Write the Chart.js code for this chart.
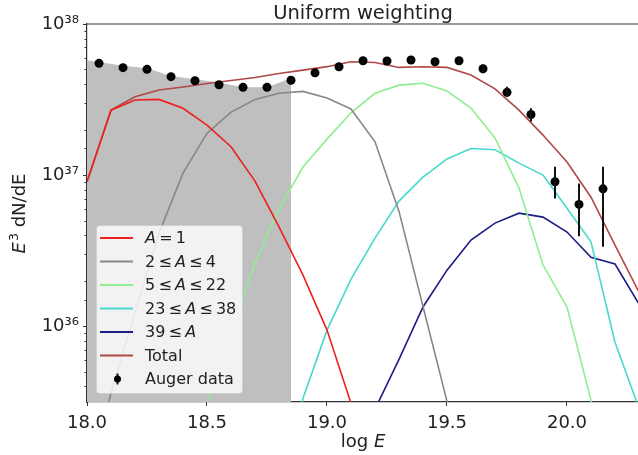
<!DOCTYPE html>
<html>
<head>
<meta charset="utf-8">
<script src="https://cdn.jsdelivr.net/npm/chart.js@4.4.1/dist/chart.umd.min.js"></script>
<style>
  html, body { margin: 0; padding: 0; background: #fff; overflow: hidden; }
  #wrap { width: 645px; height: 455px; }
</style>
</head>
<body>
<div id="wrap"><canvas id="chart" width="645" height="455"></canvas></div>
<script>
// model grid in log E
const logE = [18.0, 18.1, 18.2, 18.3, 18.4, 18.5, 18.6, 18.7, 18.8, 18.9, 19.0, 19.1,
              19.2, 19.3, 19.4, 19.5, 19.6, 19.7, 19.8, 19.9, 20.0, 20.1, 20.2, 20.3];

// E^3 dN/dE per mass group (null = not plotted)
const protons = [9.04e36, 2.69e37, 3.14e37, 3.17e37, 2.77e37, 2.14e37, 1.54e37, 9.12e36, 4.55e36, 2.18e36, 9.42e35, 3.09e35,
                 7.9e34, null, null, null, null, null, null, null, null, null, null, null];
const helium = [7.9e34, 3.61e35, 1.23e36, 4.13e36, 1.03e37, 1.89e37, 2.61e37, 3.16e37, 3.48e37, 3.58e37, 3.24e37, 2.74e37,
                1.66e37, 5.75e36, 1.35e36, 3.18e35, 6.3e34, null, null, null, null, null, null, null];
const cno = [null, null, null, null, 7.9e34, 3.02e35, 9.44e35, 2.61e36, 5.98e36, 1.13e37, 1.73e37, 2.58e37,
             3.48e37, 3.94e37, 4.05e37, 3.60e37, 2.78e37, 1.76e37, 8.20e36, 2.54e36, 1.34e36, 3.24e35, 7.9e34, null];
const silicon = [null, null, null, null, null, null, null, null, 7.9e34, 3.33e35, 9.42e35, 2.05e36,
                 3.83e36, 6.73e36, 9.70e36, 1.28e37, 1.50e37, 1.47e37, 1.20e37, 1.00e37, 6.04e36, 3.62e36, 7.83e35, 2.86e35];
const iron = [null, null, null, null, null, null, null, null, null, null, null, null,
              2.82e35, 6.04e35, 1.34e36, 2.35e36, 3.72e36, 4.81e36, 5.60e36, 5.27e36, 4.20e36, 2.86e36, 2.58e36, 1.40e36];
const total = [9.04e36, 2.69e37, 3.30e37, 3.66e37, 3.83e37, 4.04e37, 4.23e37, 4.43e37, 4.70e37, 4.95e37, 5.22e37, 5.62e37,
               5.56e37, 5.16e37, 5.21e37, 5.16e37, 4.59e37, 3.72e37, 2.69e37, 1.84e37, 1.22e37, 7.14e36, 3.44e36, 1.68e36];

// Auger spectrum
const augerE = [18.05, 18.15, 18.25, 18.35, 18.45, 18.55, 18.65, 18.75, 18.85, 18.95, 19.05,
                19.15, 19.25, 19.35, 19.45, 19.55, 19.65, 19.75, 19.85, 19.95, 20.05, 20.15];
const augerFlux = [5.49e37, 5.14e37, 5.01e37, 4.48e37, 4.21e37, 3.96e37, 3.81e37, 3.81e37, 4.24e37, 4.75e37, 5.21e37,
                   5.71e37, 5.69e37, 5.78e37, 5.63e37, 5.71e37, 5.06e37, 3.53e37, 2.52e37, 9.04e36, 6.40e36, 8.11e36];
const augerLow = [5.40e37, 5.06e37, 4.93e37, 4.41e37, 4.14e37, 3.89e37, 3.74e37, 3.73e37, 4.15e37, 4.64e37, 5.08e37,
                  5.55e37, 5.51e37, 5.57e37, 5.38e37, 5.40e37, 4.72e37, 3.29e37, 2.26e37, 7.01e36, 3.94e36, 3.35e36];
const augerHigh = [5.58e37, 5.22e37, 5.09e37, 4.55e37, 4.28e37, 4.03e37, 3.88e37, 3.89e37, 4.33e37, 4.86e37, 5.34e37,
                   5.87e37, 5.87e37, 5.99e37, 5.88e37, 6.02e37, 5.40e37, 3.85e37, 2.77e37, 1.135e37, 8.81e36, 1.135e37];

// grey band below the ankle
const shadeE = [18.0, 18.05, 18.15, 18.25, 18.35, 18.45, 18.55, 18.65, 18.75, 18.85];
const shadeTop = [5.75e37, 5.60e37, 5.30e37, 5.10e37, 4.53e37, 4.31e37, 4.10e37, 3.82e37, 3.82e37, 4.37e37];

const T = '\u2009'; // thin space, closer to mathtext spacing
const legendRows = [
  { parts: [['A', true], [T + '=' + T + '1', false]], color: '#ec2020' },
  { parts: [['2' + T + '≤' + T, false], ['A', true], [T + '≤' + T + '4', false]], color: '#888888' },
  { parts: [['5' + T + '≤' + T, false], ['A', true], [T + '≤' + T + '22', false]], color: '#90ee90' },
  { parts: [['23' + T + '≤' + T, false], ['A', true], [T + '≤' + T + '38', false]], color: '#48d8cc' },
  { parts: [['39' + T + '≤' + T, false], ['A', true]], color: '#1c1c85' },
  { parts: [['Total', false]], color: '#b04848' },
  { parts: [['Auger data', false]], marker: true }
];

const FONT = '"DejaVu Sans", sans-serif';
const sup = { '0': '⁰', '1': '¹', '2': '²', '3': '³', '4': '⁴', '5': '⁵', '6': '⁶', '7': '⁷', '8': '⁸', '9': '⁹' };

function pts(xs, ys) {
  const out = [];
  xs.forEach((x, i) => { if (ys[i] !== null) out.push({ x: x, y: ys[i] }); });
  return out;
}

function lineSet(data, color) {
  return { data: pts(logE, data), borderColor: color, borderWidth: 1.6, pointRadius: 0, fill: false, clip: 0, order: 1 };
}

function isDecade(v) {
  const l = Math.log10(v);
  return Math.abs(l - Math.round(l)) < 1e-6;
}

function drawRich(ctx, parts, x, y, size) {
  parts.forEach(([txt, ital]) => {
    ctx.font = (ital ? 'italic ' : '') + size + 'px ' + FONT;
    ctx.fillText(txt, x, y);
    x += ctx.measureText(txt).width;
  });
}

const decor = {
  id: 'decor',
  afterDatasetsDraw(chart) {
    const { ctx, chartArea: a, scales: { x, y } } = chart;
    ctx.save();
    // error bars
    ctx.strokeStyle = '#111';
    ctx.lineWidth = 2;
    augerE.forEach((e, i) => {
      const px = x.getPixelForValue(e);
      ctx.beginPath();
      ctx.moveTo(px, y.getPixelForValue(augerLow[i]));
      ctx.lineTo(px, y.getPixelForValue(augerHigh[i]));
      ctx.stroke();
    });
    // top spine
    ctx.strokeStyle = '#333';
    ctx.lineWidth = 1.2;
    ctx.beginPath();
    ctx.moveTo(a.left, a.top);
    ctx.lineTo(a.right, a.top);
    ctx.stroke();
    // minor ticks on the log axis
    ctx.lineWidth = 1;
    y.ticks.forEach(t => {
      if (isDecade(t.value)) return;
      const py = Math.round(y.getPixelForValue(t.value)) + 0.5;
      if (py > a.bottom || py < a.top) return;
      ctx.beginPath();
      ctx.moveTo(a.left - 2.5, py);
      ctx.lineTo(a.left, py);
      ctx.stroke();
    });
    // legend
    const bx = 96, by = 225, bw = 146, bh = 168;
    ctx.fillStyle = 'rgba(255,255,255,0.8)';
    ctx.strokeStyle = 'rgba(204,204,204,0.8)';
    ctx.lineWidth = 1;
    ctx.beginPath();
    ctx.roundRect(bx + 0.5, by + 0.5, bw, bh, 3);
    ctx.fill();
    ctx.stroke();
    ctx.textBaseline = 'middle';
    ctx.textAlign = 'left';
    legendRows.forEach((row, i) => {
      const ry = 238 + i * 23.5;
      if (row.marker) {
        ctx.strokeStyle = '#111';
        ctx.lineWidth = 2;
        ctx.beginPath();
        ctx.moveTo(117.5, ry - 5.5);
        ctx.lineTo(117.5, ry + 5.5);
        ctx.stroke();
        ctx.fillStyle = '#000';
        ctx.beginPath();
        ctx.arc(117.5, ry, 3.5, 0, Math.PI * 2);
        ctx.fill();
      } else {
        ctx.strokeStyle = row.color;
        ctx.lineWidth = 1.8;
        ctx.beginPath();
        ctx.moveTo(100, ry);
        ctx.lineTo(133, ry);
        ctx.stroke();
      }
      ctx.fillStyle = '#222';
      drawRich(ctx, row.parts, 145, ry + 1, 16);
    });
    ctx.restore();
  },
  afterDraw(chart) {
    const { ctx, chartArea: a } = chart;
    ctx.save();
    ctx.fillStyle = '#222';
    // title
    ctx.font = '19.5px ' + FONT;
    ctx.textAlign = 'center';
    ctx.textBaseline = 'alphabetic';
    ctx.fillText('Uniform weighting', (a.left + a.right) / 2, 19);
    // x label
    ctx.textAlign = 'left';
    ctx.font = '18px ' + FONT;
    const w1 = ctx.measureText('log ').width;
    ctx.font = 'italic 18px ' + FONT;
    const w2 = ctx.measureText('E').width;
    let sx = (a.left + a.right) / 2 - (w1 + w2) / 2;
    drawRich(ctx, [['log ', false], ['E', true]], sx, 447, 18);
    // y label
    ctx.translate(25, 214);
    ctx.rotate(-Math.PI / 2);
    ctx.font = 'italic 18px ' + FONT;
    const e = ctx.measureText('E').width;
    ctx.font = '12.6px ' + FONT;
    const s = ctx.measureText('3').width;
    ctx.font = '18px ' + FONT;
    const r = ctx.measureText(' dN/dE').width;
    let lx = -(e + s + r) / 2;
    ctx.font = 'italic 18px ' + FONT;
    ctx.fillText('E', lx, 0);
    lx += e + 1;
    ctx.font = '12.6px ' + FONT;
    ctx.fillText('3', lx, -7);
    lx += s;
    ctx.font = '18px ' + FONT;
    ctx.fillText(' dN/dE', lx, 0);
    ctx.restore();
  }
};

new Chart(document.getElementById('chart'), {
  type: 'line',
  data: {
    datasets: [
      { data: pts(augerE, augerFlux), showLine: false, pointRadius: 4.5, pointBackgroundColor: '#000',
        pointBorderColor: '#000', pointBorderWidth: 0, order: -1 },
      lineSet(protons, '#ec2020'),
      lineSet(helium, '#888888'),
      lineSet(cno, '#90ee90'),
      lineSet(silicon, '#48d8cc'),
      lineSet(iron, '#1c1c85'),
      lineSet(total, '#b04848'),
      { data: pts(shadeE, shadeTop), borderWidth: 0, pointRadius: 0, fill: 'start',
        backgroundColor: '#bfbfbf', order: 10 }
    ]
  },
  options: {
    responsive: false,
    animation: false,
    layout: { padding: { top: 24, right: 6, left: 0, bottom: 0 } },
    plugins: { legend: { display: false }, tooltip: { enabled: false }, title: { display: false } },
    scales: {
      x: {
        type: 'linear', min: 18, max: 20.3,
        afterFit: s => { s.height = 53; },
        border: { display: true, color: '#333', width: 1.2 },
        grid: { drawOnChartArea: false, tickLength: 4, tickColor: '#333' },
        ticks: { stepSize: 0.5, includeBounds: false, padding: 7, color: '#222',
                 font: { family: FONT, size: 18 }, callback: v => v.toFixed(1) }
      },
      y: {
        type: 'logarithmic', min: 3.15e35, max: 1e38,
        afterFit: s => { s.width = 87; },
        border: { display: true, color: '#333', width: 1.2 },
        grid: { drawOnChartArea: false, tickLength: 4,
                tickColor: c => (c.tick && isDecade(c.tick.value)) ? '#333' : 'rgba(0,0,0,0)' },
        ticks: { autoSkip: false, padding: 4, color: '#222', font: { family: FONT, size: 18 },
                 callback: v => isDecade(v) ? '10' + String(Math.round(Math.log10(v))).split('').map(d => sup[d]).join('') : '' }
      }
    }
  },
  plugins: [decor]
});
</script>
</body>
</html>
